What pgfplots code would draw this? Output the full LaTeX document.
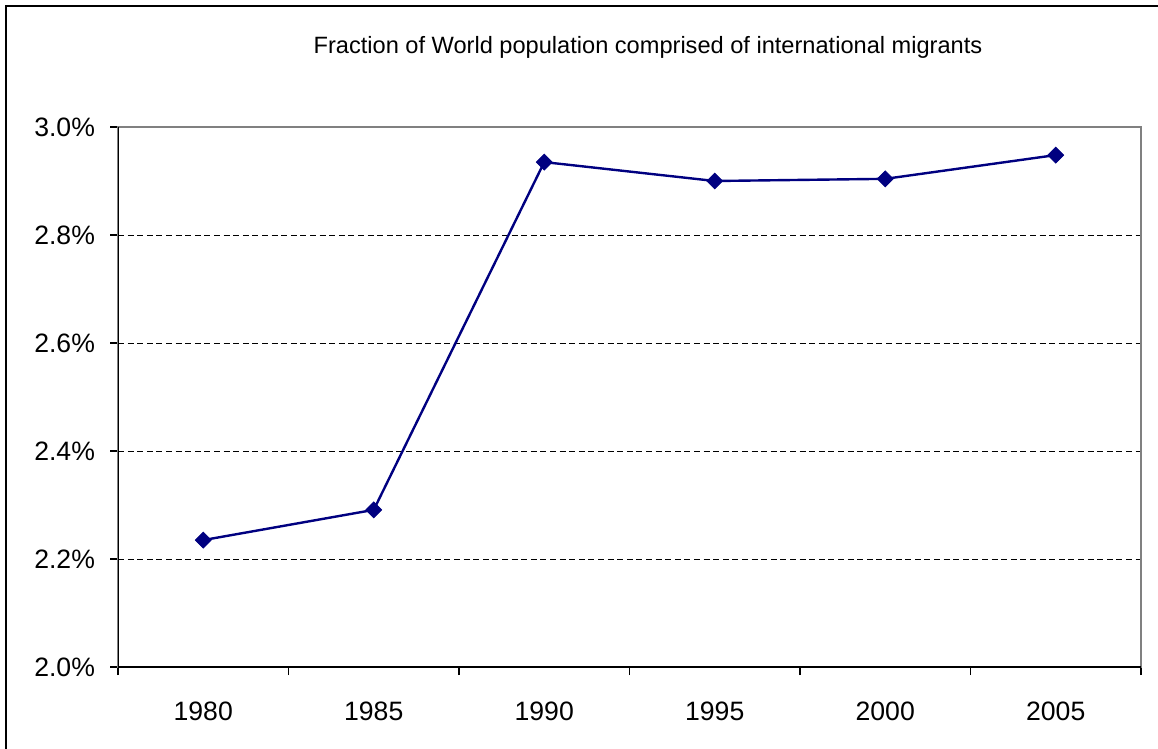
\documentclass[border=0pt]{standalone}
\usepackage{fontspec}
\setmainfont{Liberation Sans}
\usepackage{pgfplots}
\pgfplotsset{compat=1.18}
\definecolor{navyline}{RGB}{0,0,128}
\definecolor{bordergray}{RGB}{128,128,128}
\begin{document}
\begin{tikzpicture}
\useasboundingbox (0,0) rectangle (579pt,-374.5pt);
\draw[line width=1pt] (3pt,-420pt) -- (3pt,-3pt) -- (620pt,-3pt);
\node[font=\fontsize{11.8}{14}\selectfont] at (324pt,-23.5pt) {Fraction of World population comprised of international migrants};
\begin{axis}[
  at={(59pt,-333.5pt)}, anchor=south west,
  width=511.5pt, height=270pt, scale only axis,
  xmin=-0.5, xmax=5.5, ymin=2.0, ymax=3.0,
  xtick={-0.5,0.5,1.5,2.5,3.5,4.5,5.5}, xticklabels={},
  extra x ticks={0,1,2,3,4,5},
  extra x tick labels={1980,1985,1990,1995,2000,2005},
  extra x tick style={major tick length=0pt, grid=none},
  ytick={2.0,2.2,2.4,2.6,2.8,3.0},
  yticklabels={2.0\%,2.2\%,2.4\%,2.6\%,2.8\%,3.0\%},
  ymajorgrids,
  major grid style={black, line width=0.45pt, dash pattern=on 3pt off 1.8pt},
  tick align=outside, tick pos=left, major tick length=4pt,
  tick style={black, line width=0.6pt},
  axis line style={draw=bordergray, line width=1pt},
  ticklabel style={font=\fontsize{13.3}{16}\selectfont},
  xticklabel style={yshift=-14pt},
  yticklabel style={xshift=-4pt},
]
\addplot[navyline, line width=1.2pt, mark=square*, mark size=2.8pt,
  mark options={rotate=45, fill=navyline, draw=navyline, line width=0.4pt}]
  coordinates {(0,2.235) (1,2.291) (2,2.935) (3,2.900) (4,2.904) (5,2.948)};
\draw[black, line width=0.65pt] (rel axis cs:0,1) -- (rel axis cs:0,0) -- (rel axis cs:1,0);
\end{axis}
\end{tikzpicture}
\end{document}
